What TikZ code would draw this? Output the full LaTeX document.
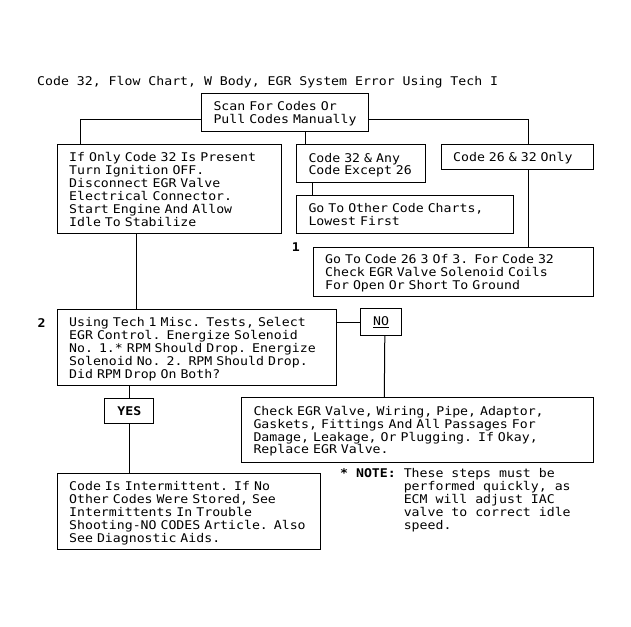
\documentclass[tikz,border=0pt]{standalone}
\usepackage{fontspec}
\newfontfamily\flowfont[FakeStretch=1.1]{DejaVu Sans Mono}
\usepackage{tikz}
\usetikzlibrary{positioning}
\tikzset{
    block/.style={rectangle,draw,line width=1pt,anchor=north west,inner xsep=12pt,inner ysep=0pt,align=left},
    tag/.style={rectangle,draw,line width=1pt,anchor=north west,inner sep=0pt},
    num/.style={inner sep=0pt,font=\flowfont\bfseries\fontsize{12}{12.5}\selectfont},
    bi/.style={-,line width=1pt}
}
\newcommand{\rows}[1]{\raisebox{-2pt}[\height][\depth]{\begin{tabular}{@{}l@{}}#1\end{tabular}}}

\begin{document}
\begin{tikzpicture}[x=1pt,y=-1pt,font=\flowfont\fontsize{12}{12.5}\selectfont]
    \path[fill=white,use as bounding box] (0,0) rectangle (631,626);

    \node[inner sep=0pt,anchor=base west] (title) at (37,85.7) {Code 32, Flow Chart, W Body, EGR System Error Using Tech I};

    \node[block] (scan) at (201,93.3) [minimum width=167.3pt,minimum height=37.4pt,text width=143.3pt]
        {\rows{Scan For Codes Or\\Pull Codes Manually}};

    \node[block] (only) at (56.7,144) [minimum width=224pt,minimum height=89.3pt,text width=200pt]
        {\rows{If Only Code 32 Is Present\\Turn Ignition OFF.\\Disconnect EGR Valve\\Electrical Connector.\\Start Engine And Allow\\Idle To Stabilize}};
    \node[block] (any) at (296,144.3) [minimum width=129pt,minimum height=38pt,text width=105pt]
        {\rows{Code 32 \& Any\\Code Except 26}};
    \node[block] (both) at (440.7,144) [minimum width=152.6pt,minimum height=25.3pt,text width=128.6pt]
        {\rows{Code 26 \& 32 Only}};
    \node[block] (other) at (296,195.3) [minimum width=216.7pt,minimum height=37.4pt,text width=192.7pt]
        {\rows{Go To Other Code Charts,\\Lowest First}};
    \node[block] (coils) at (312.7,246.7) [minimum width=280.6pt,minimum height=49pt,text width=256.6pt]
        {\rows{Go To Code 26 3 Of 3. For Code 32\\Check EGR Valve Solenoid Coils\\For Open Or Short To Ground}};
    \node[num] (step 1) [left=12.7pt of coils.north west] {1};

    \node[block] (test) at (56.7,309.3) [minimum width=279pt,minimum height=75.7pt,text width=255pt]
        {\rows{Using Tech 1 Misc. Tests, Select\\EGR Control. Energize Solenoid\\No. 1.* RPM Should Drop. Energize\\Solenoid No. 2. RPM Should Drop.\\Did RPM Drop On Both?}};
    \node[num] (step 2) [below left=8.7pt and 11pt of test.north west] {2};

    \node[tag] (no) at (360,308.3) [minimum width=41pt,minimum height=26.7pt] {\underline{NO}};
    \node[tag] (yes) at (104.3,398.3) [minimum width=49pt,minimum height=24.4pt] {\textbf{YES}};

    \node[block] (check) at (241,397) [minimum width=351.7pt,minimum height=64.7pt,text width=327.7pt]
        {\rows{Check EGR Valve, Wiring, Pipe, Adaptor,\\Gaskets, Fittings And All Passages For\\Damage, Leakage, Or Plugging. If Okay,\\Replace EGR Valve.}};
    \node[block] (interm) at (56.7,473.3) [minimum width=263.3pt,minimum height=76pt,text width=239.3pt]
        {\rows{Code Is Intermittent. If No\\Other Codes Were Stored, See\\Intermittents In Trouble\\Shooting-NO CODES Article. Also\\See Diagnostic Aids.}};

    \node[inner sep=0pt,anchor=north west] (note) at (340,468.5)
        {\begin{tabular}[t]{@{}l@{}}\textbf{* NOTE:} These steps must be\\\phantom{* NOTE: }performed quickly, as\\\phantom{* NOTE: }ECM will adjust IAC\\\phantom{* NOTE: }valve to correct idle\\\phantom{* NOTE: }speed.\end{tabular}};

    % connectors
    \draw[bi] ([yshift=-7pt]scan.west) -| ([xshift=23.3pt]only.north west);
    \draw[bi] ([yshift=-7pt]scan.east) -| ([xshift=87.8pt]both.north west);
    \draw[bi] ([xshift=104pt]scan.south west) -- ([xshift=9pt]any.north west);
    \draw[bi] ([xshift=16pt]any.south west) -- ([xshift=16pt]other.north west);
    \draw[bi] ([xshift=87.8pt]both.south west) -- ([xshift=215.8pt]coils.north west);
    \draw[bi] ([xshift=80pt]only.south west) -- ([xshift=80pt]test.north west);
    \draw[bi] (no.west) -- (no.west -| test.east);
    \draw[bi] ([xshift=3.8pt]no.south) -- ([xshift=143.3pt]check.north west);
    \draw[bi] (yes.north) -- (yes.north |- test.south);
    \draw[bi] (yes.south) -- (yes.south |- interm.north);
\end{tikzpicture}
\end{document}
